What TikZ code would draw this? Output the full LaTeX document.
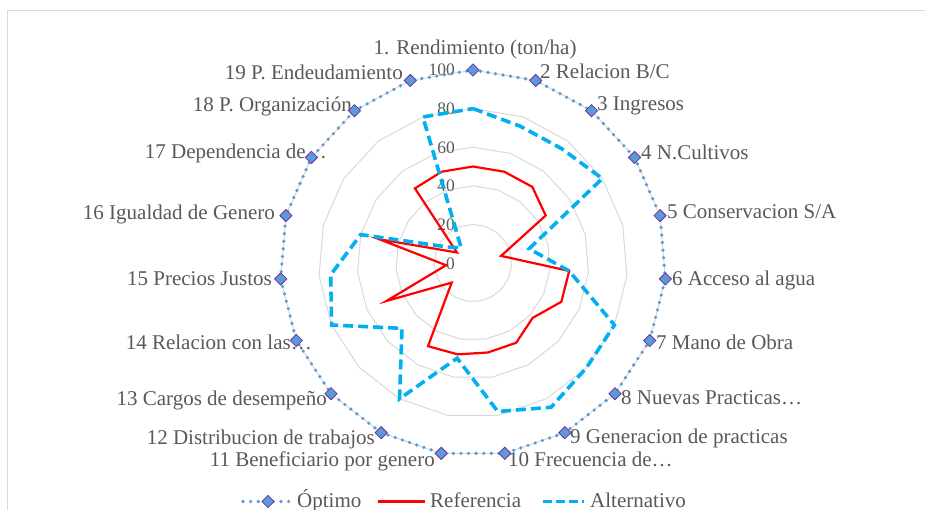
\documentclass[tikz,border=0pt]{standalone}
\usepackage{fontspec}
\setmainfont{Liberation Serif}
\usetikzlibrary{shapes.geometric}
\definecolor{txt}{HTML}{595959}
\definecolor{gridc}{HTML}{D9D9D9}
\definecolor{optc}{HTML}{5B9BD5}
\definecolor{mkc}{HTML}{7030A0}
\definecolor{altc}{HTML}{00B0F0}
\definecolor{refc}{HTML}{FF0000}
\tikzset{
  gridline/.style={draw=gridc, line width=1pt},
  catlab/.style={text=txt, font=\fontsize{21}{25}\selectfont, inner sep=0pt},
  vallab/.style={text=txt, font=\fontsize{17.5}{21}\selectfont, inner sep=0pt, anchor=base east},
  optline/.style={draw=optc, line width=3.6pt, line cap=round, dash pattern=on 0pt off 7.6pt},
  refline/.style={draw=refc, line width=2.2pt, line join=miter},
  altline/.style={draw=altc, line width=3.6pt, dash pattern=on 10pt off 5pt},
  mkr/.style={diamond, draw=mkc, fill=optc, line width=0.8pt, minimum size=12.5pt, inner sep=0pt},
}
\begin{document}
\begin{tikzpicture}[x=1pt,y=1pt]
\useasboundingbox (0,0) rectangle (925,509);
\clip (0,0) rectangle (925,509);
\fill[white] (0,0) rectangle (925,509);
\draw[gridline] (7.5,-10) -- (7.5,498) -- (940,498);

\begin{scope}[shift={(473,246)}]
  % grid polygons
  \foreach \v in {20,40,60,80,100}{
    \pgfmathsetmacro\rr{1.93*\v}
    \draw[gridline] (90:\rr) \foreach \k in {1,...,18}{ -- ({90-\k*360/19}:\rr)} -- cycle;
  }
  % data points
  \foreach \k/\a/\b in {1/50/80, 2/50/75, 3/50/75, 4/45/80, 5/15/30, 6/50/50, 7/50/80, 8/42/80, 9/47/85, 10/47/78, 11/48/50, 12/49/80, 13/15/50, 14/49/80, 15/14/74, 16/50/60, 17/10/15, 18/49/10, 19/50/80}{
    \pgfmathsetmacro\ang{90-(\k-1)*360/19}
    \pgfmathsetmacro\ra{1.93*\a}
    \pgfmathsetmacro\rb{1.93*\b}
    \coordinate (o\k) at (\ang:193);
    \coordinate (r\k) at (\ang:\ra);
    \coordinate (a\k) at (\ang:\rb);
  }
  % value labels
  \foreach \v in {0,20,40,60,80,100}{
    \pgfmathsetmacro\yy{1.93*\v-6}
    \node[vallab] (v\v) at (-18,\yy) {\v};
  }
\end{scope}

% category labels
\node[catlab, anchor=base] (l1) at (475,454) {1. Rendimiento (ton/ha)};
\node[catlab, anchor=base west] (l2) at (540,430) {2 Relacion B/C};
\node[catlab, anchor=base west] (l3) at (597,398) {3 Ingresos};
\node[catlab, anchor=base west] (l4) at (641,349) {4 N.Cultivos};
\node[catlab, anchor=base west] (l5) at (667,290) {5 Conservacion S/A};
\node[catlab, anchor=base west] (l6) at (672,224) {6 Acceso al agua};
\node[catlab, anchor=base west] (l7) at (656,160) {7 Mano de Obra};
\node[catlab, anchor=base west] (l8) at (621,105) {8 Nuevas Practicas…};
\node[catlab, anchor=base west] (l9) at (570,66) {9 Generacion de practicas};
\node[catlab, anchor=base west] (l10) at (508,43) {10 Frecuencia de…};
\node[catlab, anchor=base east] (l11) at (435,43) {11 Beneficiario por genero};
\node[catlab, anchor=base east] (l12) at (375,65) {12 Distribucion de trabajos};
\node[catlab, anchor=base east] (l13) at (327,104) {13 Cargos de desempeño};
\node[catlab, anchor=base east] (l14) at (312,160) {14 Relacion con las…};
\node[catlab, anchor=base east] (l15) at (272,224) {15 Precios Justos};
\node[catlab, anchor=base east] (l16) at (275,289) {16 Igualdad de Genero};
\node[catlab, anchor=base east] (l17) at (327,350) {17 Dependencia de…};
\node[catlab, anchor=base east] (l18) at (352,397) {18 P. Organización};
\node[catlab, anchor=base east] (l19) at (403,429) {19 P. Endeudamiento};

% series
\draw[optline] (o1) \foreach \k in {2,...,19}{ -- (o\k)} -- cycle;
\foreach \k in {1,...,19}{ \node[mkr] (m\k) at (o\k) {}; }
\draw[refline] (r1) \foreach \k in {2,...,19}{ -- (r\k)} -- cycle;
\draw[altline] (a1) \foreach \k in {2,...,19}{ -- (a\k)} -- cycle;

% legend
\coordinate (lo1) at (243,7.5);
\coordinate (lo2) at (292,7.5);
\draw[optline] (lo1) -- (lo2);
\node[mkr] (lom) at (268,7.5) {};
\node[catlab, anchor=base west] (lot) at (297,2) {Óptimo};
\coordinate (lr1) at (378,7.5);
\coordinate (lr2) at (425,7.5);
\draw[refline] (lr1) -- (lr2);
\node[catlab, anchor=base west] (lrt) at (430,2) {Referencia};
\coordinate (la1) at (543,7.5);
\coordinate (la2) at (584,7.5);
\draw[altline, dash pattern=on 9pt off 4pt] (la1) -- (la2);
\node[catlab, anchor=base west] (lat) at (590,2) {Alternativo};
\end{tikzpicture}
\end{document}
